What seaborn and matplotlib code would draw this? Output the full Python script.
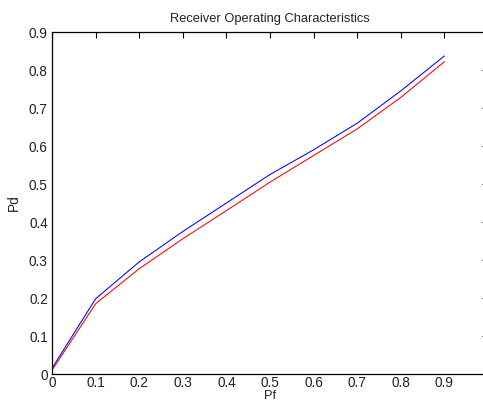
import pandas as pd
import seaborn as sns
import matplotlib
matplotlib.use('Agg')
import matplotlib.pyplot as plt
from matplotlib.ticker import FormatStrFormatter

# ROC values
pf = [0.0, 0.1, 0.2, 0.3, 0.4, 0.5, 0.6, 0.7, 0.8, 0.9]
pd_blue = [0.015, 0.198, 0.295, 0.375, 0.450, 0.525, 0.590, 0.660, 0.745, 0.837]
pd_red = [0.010, 0.185, 0.277, 0.356, 0.430, 0.505, 0.575, 0.645, 0.728, 0.822]
xticks = [0, 0.1, 0.2, 0.3, 0.4, 0.5, 0.6, 0.7, 0.8, 0.9]
yticks = [0, 0.1, 0.2, 0.3, 0.4, 0.5, 0.6, 0.7, 0.8, 0.9]

df = pd.DataFrame({
    'Pf': pf * 2,
    'Pd': pd_blue + pd_red,
    'curve': ['a'] * len(pf) + ['b'] * len(pf),
})

sns.set_style('white')
plt.rcParams['font.family'] = ['Liberation Sans', 'DejaVu Sans']

fig = plt.figure(figsize=(4.83, 4.07), dpi=100)
# axes runs past the right edge, like the cropped screenshot
ax = fig.add_axes([52 / 483, 33 / 407, 436 / 483, 342 / 407])

sns.lineplot(data=df, x='Pf', y='Pd', hue='curve',
             palette={'a': '#0000ff', 'b': '#ff0000'},
             linewidth=0.75, legend=False, ax=ax)

ax.set_xlim(0, 1)
ax.set_ylim(0, 0.9)
ax.set_xticks(xticks)
ax.set_yticks(yticks)
ax.xaxis.set_major_formatter(FormatStrFormatter('%g'))
ax.yaxis.set_major_formatter(FormatStrFormatter('%g'))
ax.tick_params(direction='in', length=4, width=0.8, top=True, right=True,
               labelsize=9.8, labelcolor='#222222', colors='black', pad=3)
ax.tick_params(axis='x', pad=1.5)
for s in ax.spines.values():
    s.set_color('black')
    s.set_linewidth(0.9)

ax.set_title('Receiver Operating Characteristics', fontsize=9.3, pad=7,
             color='#222222')
ax.set_xlabel('Pf', fontsize=9.3, labelpad=0, color='#222222')
ax.set_ylabel('Pd', fontsize=9.8, labelpad=6, color='#222222')

fig.savefig('out.png', dpi=100)
